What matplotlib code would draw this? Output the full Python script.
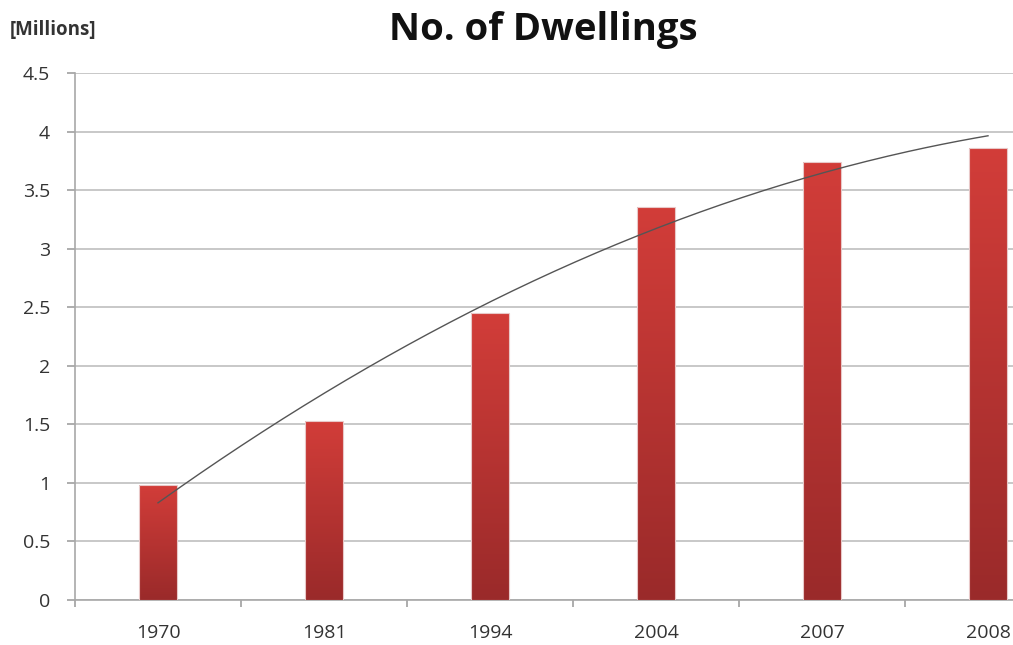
import numpy as np
import matplotlib
matplotlib.use("Agg")
import matplotlib.pyplot as plt
from matplotlib.colors import LinearSegmentedColormap
from matplotlib.patches import Rectangle

years = ["1970", "1981", "1994", "2004", "2007", "2008"]
dwellings = [0.98, 1.53, 2.45, 3.36, 3.74, 3.86]  # millions
y_ticks = [0, 0.5, 1, 1.5, 2, 2.5, 3, 3.5, 4, 4.5]
y_tick_labels = ["0", "0.5", "1", "1.5", "2", "2.5", "3", "3.5", "4", "4.5"]

plt.rcParams["font.family"] = ["Open Sans", "DejaVu Sans"]

fig = plt.figure(figsize=(10.13, 6.45), dpi=100)
W, H = 1013, 645
left, right, bottom, top = 75, 1071, 600, 73
ax = fig.add_axes([left / W, (H - bottom) / H, (right - left) / W, (bottom - top) / H])

x = np.arange(len(years))
bar_w = 0.225
grad = LinearSegmentedColormap.from_list("bar_red", ["#9a2a2a", "#d23d39"])

ax.set_xlim(-0.5, len(years) - 0.5)
ax.set_ylim(0, 4.5)

for xi, v in zip(x, dwellings):
    rect = Rectangle((xi - bar_w / 2, 0), bar_w, v, facecolor="none",
                     edgecolor="none", zorder=3)
    ax.add_patch(rect)
    img = ax.imshow(np.linspace(0, 1, 256).reshape(-1, 1), cmap=grad,
                    origin="lower", aspect="auto",
                    extent=(xi - bar_w / 2, xi + bar_w / 2, 0, v), zorder=3)
    img.set_clip_path(rect)
    ax.add_patch(Rectangle((xi - bar_w / 2, 0), bar_w, v, facecolor="none",
                           edgecolor="#e8c8c8", linewidth=0.8, zorder=3.1))

# second-order polynomial trendline
coef = np.polyfit(x, dwellings, 2)
xs = np.linspace(x[0], x[-1], 200)
ax.plot(xs, np.polyval(coef, xs), color="#555555", linewidth=1.0, zorder=4)

ax.set_xlim(-0.5, len(years) - 0.5)
ax.set_ylim(0, 4.5)

ax.set_yticks(y_ticks)
ax.set_yticklabels(y_tick_labels)
ax.yaxis.grid(True, color="#c4c4c4", linewidth=1.3, zorder=0)
ax.set_axisbelow(True)

ax.set_xticks(x)
ax.set_xticklabels(years)
ax.set_xticks(np.arange(-0.5, len(years)), minor=True)
ax.tick_params(axis="x", which="major", length=0, pad=24, labelsize=14,
               labelcolor="#333333")
ax.tick_params(axis="x", which="minor", length=5, width=1.2, color="#a0a0a0",
               direction="out")
ax.tick_params(axis="y", length=6, width=1.2, color="#a0a0a0", pad=12,
               labelsize=14, labelcolor="#333333")
for lbl in ax.get_xticklabels():
    lbl.set_va("center")

for s in ["top", "right"]:
    ax.spines[s].set_visible(False)
for s in ["left", "bottom"]:
    ax.spines[s].set_color("#a8a8a8")
    ax.spines[s].set_linewidth(1.2)

fig.text(543 / W, 1 - 40 / H, "No. of Dwellings", ha="center", va="baseline",
         fontsize=27.5, fontweight="bold", color="#111111")
fig.text(10 / W, 1 - 30 / H, "[Millions]", ha="left", va="center",
         fontsize=13.5, fontweight="bold", color="#333333")

fig.savefig("out.png", dpi=100)
